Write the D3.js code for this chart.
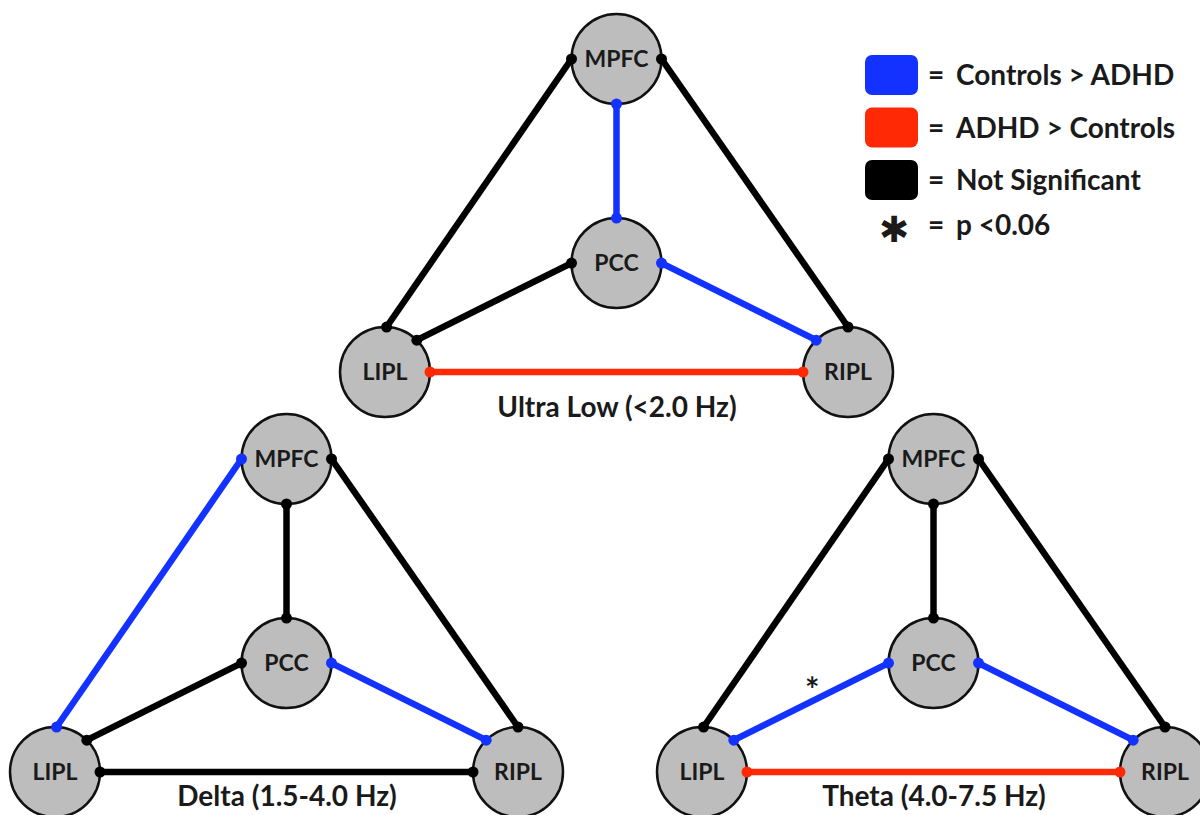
<!DOCTYPE html>
<html>
<head>
<meta charset="utf-8">
<script src="https://cdn.jsdelivr.net/npm/d3@7"></script>
<style>
  html, body { margin: 0; padding: 0; background: #fff; }
  svg { display: block; }
  text { font-family: Lato, "Open Sans", sans-serif; font-weight: 700; fill: #1a1a1a; }
</style>
</head>
<body>
<svg id="chart" width="1200" height="815"></svg>
<script>
// Regions of the default mode network
const regions = ["MPFC", "PCC", "LIPL", "RIPL"];
// Connections between regions (source, target)
const edges = [["MPFC", "LIPL"], ["MPFC", "RIPL"], ["MPFC", "PCC"], ["PCC", "LIPL"], ["PCC", "RIPL"], ["LIPL", "RIPL"]];
// Frequency bands
const bands = ["Ultra Low (<2.0 Hz)", "Delta (1.5-4.0 Hz)", "Theta (4.0-7.5 Hz)"];
// Group difference for every connection, per band
const ultraLowResult = ["ns", "ns", "controls", "ns", "controls", "adhd"];
const deltaResult    = ["controls", "ns", "ns", "ns", "controls", "ns"];
const thetaResult    = ["ns", "ns", "ns", "controls", "controls", "adhd"];
// Connections at trend level (p < 0.06)
const ultraLowTrend = [false, false, false, false, false, false];
const deltaTrend    = [false, false, false, false, false, false];
const thetaTrend    = [false, false, false, true, false, false];
// Legend entries
const legendKeys = ["controls", "adhd", "ns"];
const legendLabels = ["Controls > ADHD", "ADHD > Controls", "Not Significant"];
const trendLabel = "p <0.06";

const results = [ultraLowResult, deltaResult, thetaResult];
const trends = [ultraLowTrend, deltaTrend, thetaTrend];

// Node layout in a unit triangle
const layoutX = { MPFC: 0.5, PCC: 0.5, LIPL: 0, RIPL: 1 };
const layoutY = { MPFC: 0, PCC: 0.652, LIPL: 1, RIPL: 1 };
// Angle (degrees) at which each connection leaves the node circle
const ports = [[180, -88], [0, -90], [90, -90], [180, -45], [0, -135], [0, 180]];

const color = d3.scaleOrdinal()
  .domain(["controls", "adhd", "ns"])
  .range(["#1432ff", "#ff2a05", "#000000"]);

const svg = d3.select("#chart");
const R = 45;

const x = d3.scaleLinear().domain([0, 1]).range([385, 848]);
const y = d3.scaleLinear().domain([0, 1]).range([59, 372]);

// Panel placement and caption baseline for each band
const panelShift = [[0, 0], [-330, 400], [317, 400]];
const captionY = [417, 406, 406];

function port(name, deg) {
  const a = deg * Math.PI / 180;
  return [x(layoutX[name]) + R * Math.cos(a), y(layoutY[name]) + R * Math.sin(a)];
}

bands.forEach((band, b) => {
  const g = svg.append("g").attr("transform", `translate(${panelShift[b][0]},${panelShift[b][1]})`);
  const data = edges.map((e, i) => {
    const p0 = port(e[0], ports[i][0]);
    const p1 = port(e[1], ports[i][1]);
    return { p0, p1, status: results[b][i], trend: trends[b][i] };
  });

  g.selectAll("line.edge").data(data).join("line")
    .attr("class", "edge")
    .attr("x1", d => d.p0[0]).attr("y1", d => d.p0[1])
    .attr("x2", d => d.p1[0]).attr("y2", d => d.p1[1])
    .attr("stroke", d => color(d.status))
    .attr("stroke-width", 6.5);

  g.selectAll("circle.node").data(regions).join("circle")
    .attr("class", "node")
    .attr("cx", d => x(layoutX[d])).attr("cy", d => y(layoutY[d]))
    .attr("r", R)
    .attr("fill", "#bdbdbd")
    .attr("stroke", "#111")
    .attr("stroke-width", 2.5);

  g.selectAll("text.node-label").data(regions).join("text")
    .attr("class", "node-label")
    .attr("x", d => x(layoutX[d])).attr("y", d => y(layoutY[d]) + 8)
    .attr("text-anchor", "middle")
    .attr("font-size", 23)
    .text(d => d);

  const ends = data.flatMap(d => [{ p: d.p0, s: d.status }, { p: d.p1, s: d.status }]);
  g.selectAll("circle.end").data(ends).join("circle")
    .attr("class", "end")
    .attr("cx", d => d.p[0]).attr("cy", d => d.p[1])
    .attr("r", 5.5)
    .attr("fill", d => color(d.s));

  g.selectAll("text.trend").data(data.filter(d => d.trend)).join("text")
    .attr("class", "trend")
    .attr("x", d => (d.p0[0] + d.p1[0]) / 2 + 1)
    .attr("y", d => (d.p0[1] + d.p1[1]) / 2)
    .attr("text-anchor", "middle")
    .attr("font-size", 34)
    .text("*");

  g.append("text")
    .attr("x", 617).attr("y", captionY[b])
    .attr("text-anchor", "middle")
    .attr("font-size", 28)
    .text(band);
});

// Legend
const legend = svg.append("g");
const rowY = d3.scaleBand().domain(legendKeys).range([55, 200]).paddingInner(0.238);
legend.selectAll("rect").data(legendKeys).join("rect")
  .attr("x", 865).attr("y", d => rowY(d))
  .attr("width", 53).attr("height", rowY.bandwidth())
  .attr("rx", 7)
  .attr("fill", d => color(d));
legend.selectAll("text.eq").data(legendKeys).join("text")
  .attr("class", "eq")
  .attr("x", 928).attr("y", d => rowY(d) + rowY.bandwidth() / 2 + 10)
  .attr("font-size", 28)
  .text("=");
legend.selectAll("text.lab").data(legendKeys).join("text")
  .attr("class", "lab")
  .attr("x", 956).attr("y", d => rowY(d) + rowY.bandwidth() / 2 + 10)
  .attr("font-size", 28)
  .text((d, i) => legendLabels[i]);
legend.append("text")
  .attr("x", 894).attr("y", 229)
  .attr("text-anchor", "middle")
  .attr("dominant-baseline", "central")
  .attr("font-size", 36)
  .style("font-family", "'DejaVu Sans', sans-serif")
  .text("\u2731");
legend.append("text").attr("x", 928).attr("y", 235).attr("font-size", 28).text("=");
legend.append("text").attr("x", 956).attr("y", 235).attr("font-size", 28).text(trendLabel);
</script>
</body>
</html>
